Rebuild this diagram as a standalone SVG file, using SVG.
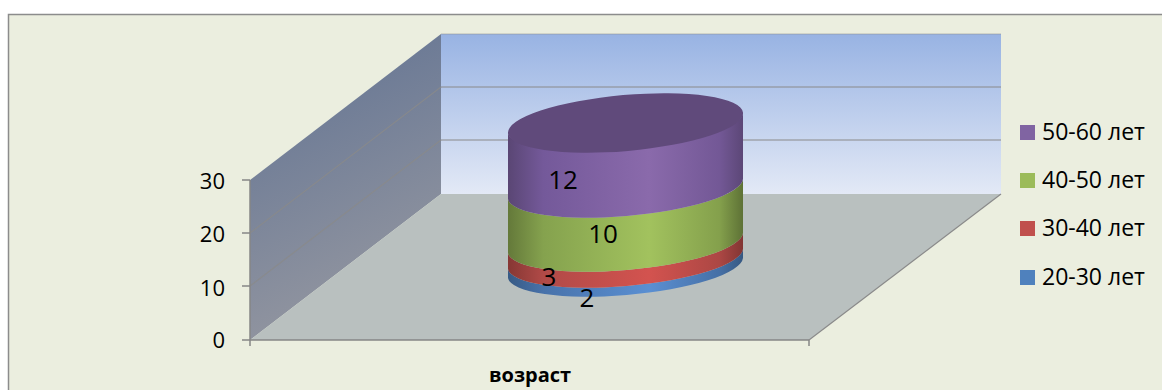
<svg xmlns="http://www.w3.org/2000/svg" width="1162" height="390" viewBox="0 0 1162 390">
<defs>
<style>
.t{font-family:"Open Sans","Liberation Sans",sans-serif;font-size:22px;fill:#000}
.lg{font-family:"Open Sans","Liberation Sans",sans-serif;font-size:23px;fill:#000}
.dl{font-family:"Open Sans","Liberation Sans",sans-serif;font-size:26px;fill:#000}
.ax{stroke:#868686;stroke-width:1.5;fill:none}
.grid{stroke:#8a8a8a;stroke-width:1.2;fill:none}
</style>
<linearGradient id="backG" x1="0" y1="0" x2="0" y2="1">
<stop offset="0" stop-color="#98B3E3"/><stop offset="1" stop-color="#E3E9F6"/>
</linearGradient>
<linearGradient id="leftG" x1="0" y1="0" x2="0.3" y2="1">
<stop offset="0" stop-color="#5F7192"/><stop offset="1" stop-color="#9396A0"/>
</linearGradient>
<linearGradient id="gP" x1="508" y1="0" x2="743" y2="0" gradientUnits="userSpaceOnUse">
<stop offset="0" stop-color="#5A4674"/><stop offset="0.15" stop-color="#74599A"/><stop offset="0.6" stop-color="#8A6AAB"/><stop offset="0.9" stop-color="#735896"/><stop offset="1" stop-color="#5C4777"/>
</linearGradient>
<linearGradient id="gG" x1="508" y1="0" x2="743" y2="0" gradientUnits="userSpaceOnUse">
<stop offset="0" stop-color="#64793A"/><stop offset="0.15" stop-color="#85A24E"/><stop offset="0.6" stop-color="#A2C25E"/><stop offset="0.9" stop-color="#84A04C"/><stop offset="1" stop-color="#5E7236"/>
</linearGradient>
<linearGradient id="gR" x1="508" y1="0" x2="743" y2="0" gradientUnits="userSpaceOnUse">
<stop offset="0" stop-color="#863734"/><stop offset="0.15" stop-color="#B04A47"/><stop offset="0.6" stop-color="#D3534F"/><stop offset="0.9" stop-color="#AC4744"/><stop offset="1" stop-color="#823533"/>
</linearGradient>
<linearGradient id="gB" x1="508" y1="0" x2="743" y2="0" gradientUnits="userSpaceOnUse">
<stop offset="0" stop-color="#375A85"/><stop offset="0.15" stop-color="#4872AA"/><stop offset="0.6" stop-color="#5A8FD2"/><stop offset="0.9" stop-color="#4670A6"/><stop offset="1" stop-color="#365882"/>
</linearGradient>
</defs>
<rect x="0" y="0" width="1162" height="390" fill="#ffffff"/>
<rect x="8.5" y="14.5" width="1160" height="380" fill="#EBEEDF" stroke="#8C8C8C" stroke-width="1.5"/>
<g id="walls">
<polygon points="441,34 1001,34 1001,194 441,194" fill="url(#backG)"/>
<polygon points="250,180 441,34 441,194 250,340" fill="url(#leftG)"/>
<polygon points="250,340 441,194 1001,194 809,340" fill="#B9C0BF"/>
<line class="grid" x1="441" y1="34" x2="1001" y2="34" stroke-opacity="0.5"/>
<line class="grid" x1="441" y1="87" x2="1001" y2="87"/>
<line class="grid" x1="441" y1="140" x2="1001" y2="140"/>
<line class="grid" x1="250" y1="233" x2="441" y2="87" stroke-opacity="0.8"/>
<line class="grid" x1="250" y1="286" x2="441" y2="140" stroke-opacity="0.8"/>
<line class="grid" x1="809" y1="340" x2="1001" y2="194"/>
</g>
<g id="axes">
<line class="ax" x1="250" y1="180" x2="250" y2="346"/>
<line class="ax" x1="250" y1="340" x2="809" y2="340"/>
<line class="ax" x1="809" y1="340" x2="809" y2="346"/>
<line class="ax" x1="242" y1="180" x2="250" y2="180"/>
<line class="ax" x1="242" y1="233" x2="250" y2="233"/>
<line class="ax" x1="242" y1="286" x2="250" y2="286"/>
<line class="ax" x1="242" y1="340" x2="250" y2="340"/>
<text class="t" x="225" y="189" text-anchor="end">30</text>
<text class="t" x="225" y="242" text-anchor="end">20</text>
<text class="t" x="225" y="296" text-anchor="end">10</text>
<text class="t" x="225" y="348" text-anchor="end">0</text>
<text x="530" y="382" text-anchor="middle" style="font-family:'Open Sans','Liberation Sans',sans-serif;font-size:20px;font-weight:bold;fill:#000">возраст</text>
</g>
<g id="cylinder">
<path id="s20-30" fill="url(#gB)" d="M508,269 A118,28 -5 0 0 743,249 L743,258 A118,28 -5 0 1 508,278 Z"/>
<path id="s30-40" fill="url(#gR)" d="M508,253 A118,28 -5 0 0 743,233 L743,249 A118,28 -5 0 1 508,269 Z"/>
<path id="s40-50" fill="url(#gG)" d="M508,199 A118,28 -5 0 0 743,179 L743,233 A118,28 -5 0 1 508,253 Z"/>
<path id="s50-60" fill="url(#gP)" d="M508,133 A118,28 -5 0 0 743,113 L743,179 A118,28 -5 0 1 508,199 Z"/>
<ellipse cx="625.5" cy="123" rx="118" ry="28" transform="rotate(-5 625.5 123)" fill="#604A7B"/>
<text class="dl" x="563" y="189" text-anchor="middle">12</text>
<text class="dl" x="603" y="243" text-anchor="middle">10</text>
<text class="dl" x="549" y="286" text-anchor="middle">3</text>
<text class="dl" x="587" y="307" text-anchor="middle">2</text>
</g>
<g id="legend">
<rect x="1020" y="125" width="15" height="15" fill="#8064A2"/>
<text class="lg" x="1042" y="140">50-60 лет</text>
<rect x="1020" y="173" width="15" height="15" fill="#9BBB59"/>
<text class="lg" x="1042" y="188">40-50 лет</text>
<rect x="1020" y="221" width="15" height="15" fill="#C0504D"/>
<text class="lg" x="1042" y="236">30-40 лет</text>
<rect x="1020" y="270" width="15" height="15" fill="#4F81BD"/>
<text class="lg" x="1042" y="285">20-30 лет</text>
</g>
</svg>
